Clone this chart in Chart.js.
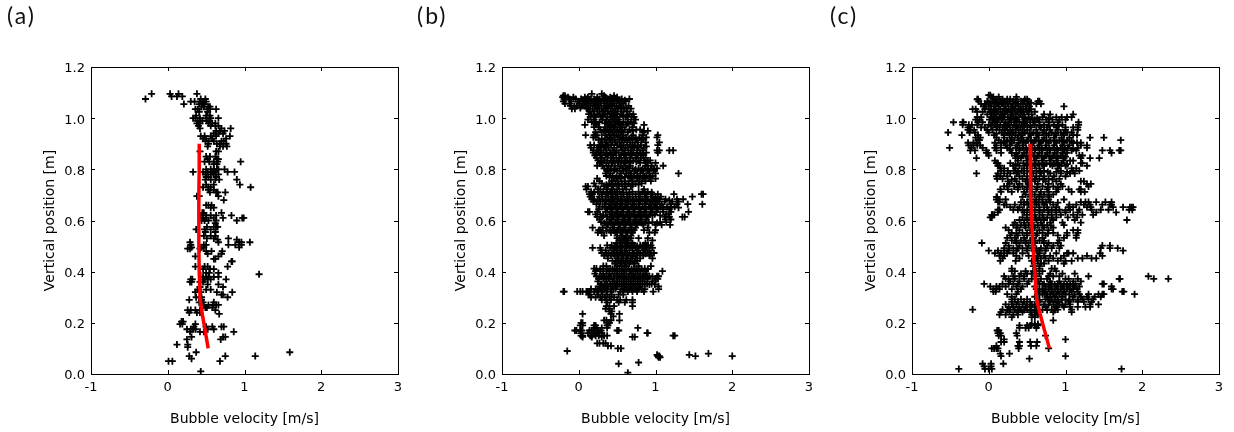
<!DOCTYPE html>
<html>
<head>
<meta charset="utf-8">
<title>Bubble velocity</title>
<script src="https://cdn.jsdelivr.net/npm/chart.js@4"></script>
<style>
  html, body { margin: 0; padding: 0; background: #fff; overflow: hidden; }
  #page { position: relative; width: 1234px; height: 432px; }
  canvas { position: absolute; top: 0; }
  .tag { position: absolute; top: 1px; font: 23px Lato, sans-serif; letter-spacing: 2px; color: #111; }
</style>
</head>
<body>
<div id="page">
  <canvas id="panelA" width="411" height="432" style="left:0"></canvas>
  <canvas id="panelB" width="411" height="432" style="left:411px"></canvas>
  <canvas id="panelC" width="411" height="432" style="left:821px"></canvas>
  <div class="tag" style="left:7px">(a)</div>
  <div class="tag" style="left:417px">(b)</div>
  <div class="tag" style="left:830px">(c)</div>
</div>
<script>
const xTickLabels = ['-1', '0', '1', '2', '3'];
const yTickLabels = ['0.0', '0.2', '0.4', '0.6', '0.8', '1.0', '1.2'];
const xTitle = 'Bubble velocity [m/s]';
const yTitle = 'Vertical position [m]';

// mean velocity curves, same heights for (a) and (c)
const meanHeights = [0.9, 0.8, 0.7, 0.6, 0.5, 0.4, 0.3, 0.25, 0.2, 0.1];
const meanVelocityA = [0.41, 0.41, 0.405, 0.405, 0.405, 0.41, 0.42, 0.44, 0.47, 0.527];
const meanVelocityC = [0.54, 0.54, 0.55, 0.56, 0.575, 0.6, 0.62, 0.655, 0.70, 0.79];

const bubblesA = [
  [1.095,-.21,.03,.14,.38],[1.085,.05,.12,.19],[1.075,-.29,.43,.49],[1.065,.3,.35,.42,.46,.5],
  [1.055,.21,.41,.45,.48],[1.045,.44,.47,.53,.55],[1.035,.36,.39,.52,.55,.63],[1.025,.41,.52],
  [1.01,.37,.5,.55],[1,.33,.36,.42,.5,.56,.66],[.99,.39,.45,.51,.54],[.98,.38,.42,.53,.58,.62],
  [.97,.4,.56,.62,.66],[.96,.42,.82,.7],[.95,.68,.74,.63],[.94,.6,.66,.72],[.93,.43,.48,.56,.63,.81],
  [.92,.46,.5,.58,.76],[.91,.49,.53,.6,.7,.73],[.9,.53,.64,.68,.76],[.89,.52,.68,.72,.77],
  [.87,.42,.63,.66],[.85,.5,.55,.62],[.84,.52,.66,.64],[.83,.48,.54,.6,.65,.95],[.82,.6,.64],
  [.8,.5,.56,.6,.64,.66,.74],[.79,.33,.46,.52,.58,.62,.87,.78],[.78,.49,.56,.6,.66],[.77,.5,.53,.63],
  [.76,.49,.56,.62,.67,.9],[.74,.5,.6,.94],[.73,.46,.53,.56,1.08],[.72,.53,.6],[.71,.55,.63,.65,.75],
  [.695,.38,.41,.66],[.68,.73],[.66,.5,.53,.57],[.65,.56,.6],[.63,.45,.47,.7],[.62,.43,.5,.56,.63,.83],
  [.61,.46,.5,.6,.72,.97,.99],[.6,.44,.48,.53,.63,.9],[.59,.62],[.575,.51,.6,.63,.65],[.565,.37,.48,.56],
  [.555,.49,.62],[.54,.47,.56,.62],[.53,.51,.6,.79],[.525,.65,.9],[.515,.29,.66,.93,.96,1.07],
  [.505,.3,.47,.5,.79,.88,.96],[.495,.31,.44,.47,.93],[.49,.26,.29,.42],[.48,.5,.57,.71],[.47,.52,.7],
  [.46,.36,.66],[.45,.62,.6],[.44,.83,.84],[.42,.36,.48,.52,.78],[.41,.46,.55,.6],[.395,.66,.5,.54],
  [.39,1.19],[.38,.46,.5,.53,.6,.66],[.37,.3,.32,.48,.52,.56,.76],[.36,.29,.31,.42,.46],[.35,.52,.66],
  [.34,.42,.72],[.33,.39,.4,.5,.56],[.32,.36,.43,.64,.84],[.31,.7,.72],[.3,.37,.44,.78],[.29,.28,.44],
  [.28,.41,.46,.6],[.27,.47,.53,.59,.63,.66],[.26,.49,.51,.58],[.25,.26,.3,.36,.42,.62],[.24,.28,.38,.42],
  [.235,.67],[.205,.2,.18],[.195,.16,.19,.36],[.185,.34,.5,.58,.7,.73],[.175,.25,.3,.33,.36,.52,.6],
  [.165,.29,.42,.47,.86],[.145,.75,.72,.31],[.135,.25,.69],[.115,.12,.26],[.105,.26],[.085,.37,1.59],
  [.07,.28,.75,1.14],[.06,.31],[.05,.01,.06,.68],[.01,.43]
];

const bubblesB = [
  [1.095,.17,.3],[1.088,-.2,-.18,.33,.46],[1.082,-.21,-.14,-.07,.08,.12,.24,.35,.41,.5],
  [1.075,-.19,-.17,-.12,-.04,.03,.1,.15,.2,.27,.31,.38,.44,.48,.56,.66],
  [1.066,-.2,-.1,-.01,.05,.13,.17,.23,.29,.34,.37,.43,.52,.61],[1.057,-.18,-.12,.01,.09,.11,.19,.25,.28,.36,.41,.46,.55,.58],
  [1.048,-.11,-.06,-.03,.04,.07,.15,.21,.26,.33,.39,.44,.49,.53,.65],[1.037,-.09,-.05,.12,.18,.23,.3,.35,.42,.47,.51,.59,.68],
  [1.026,.14,.2,.27,.32,.38,.45,.48,.56,.63],[1.016,.13,.16,.25,.34,.4,.43,.5,.55,.66,.71],
  [1.005,.15,.22,.29,.37,.42,.47,.53,.61,.69,.72],[.994,.12,.2,.31,.36,.44,.49,.52,.64,.74],
  [.985,.17,.27,.39,.41,.46,.51,.58,.68],[.974,.08,.23,.38,.43,.48,.55,.62,.85],[.965,.2,.26,.35,.4,.45,.53,.57,.7],
  [.955,.28,.37,.42,.47,.5,.6,.66,.75,.8],[.945,.22,.3,.39,.44,.52,.56,.64,.84],
  [.934,.09,.2,.24,.35,.41,.46,.49,.58,.71,.83,1.03],[.925,.19,.22,.37,.43,.51,.54,.62,.69,.79,.88,1.02],
  [.915,.26,.34,.4,.47,.56,.6,.66,.75,.82],[.905,.29,.36,.44,.48,.53,.63,.7,.77,.87,1.05],
  [.895,.15,.2,.31,.38,.42,.5,.58,.67,.73,.81,1.03],[.885,.16,.25,.33,.39,.46,.55,.61,.64,.72,.78,.85],
  [.874,.19,.24,.29,.36,.44,.49,.57,.6,.68,.76,.83,1.05,1.18,1.23,1.02],[.865,.19,.26,.32,.41,.47,.52,.65,.71,.8,.88,1.03],
  [.855,.21,.28,.35,.38,.45,.55,.62,.69,.77,.84],[.845,.23,.3,.42,.49,.53,.6,.67,.74,.81,.87],
  [.835,.25,.33,.37,.46,.56,.63,.71,.78,.85,.93],[.825,.27,.36,.44,.51,.59,.66,.8,.88,1],
  [.814,.24,.31,.39,.47,.55,.61,.67,.87,.95,1.1],[.804,.33,.42,.53,.57,.64,.7,.78,.86,.94,1.02],
  [.794,.38,.46,.5,.58,.66,.73,.81,.9,.98],[.784,.35,.41,.55,.62,.68,.76,.84,.92,1,1.3],
  [.774,.36,.44,.53,.65,.72,.8,.88,.96],[.764,.24,.46,.55,.67,.76,.83,.91,1],[.754,.27,.43,.51,.6,.7,.79,.87,.94],
  [.745,.2,.3,.4,.48,.56,.65,.74,.82],[.733,.09,.12,.22,.33,.38,.45,.52,.6,.68],[.722,.1,.25,.28,.36,.43,.5,.57,.62,.85],
  [.712,.16,.25,.32,.41,.47,.53,.7,.78,.83,.9],[.703,.14,.18,.3,.38,.44,.5,.58,.66,.74,.8,.88,.96,1.03,1.24,1.6,1.62],
  [.693,.15,.17,.27,.35,.42,.48,.55,.63,.7,.78,.86,.94,1,1.07,1.48],
  [.683,.17,.2,.31,.39,.46,.52,.6,.67,.75,.83,.9,.98,1.05,1.13,1.28,1.36],[.674,.19,.28,.36,.44,.5,.57,.65,.72,.8,.88,.96,1.03,1.12,1.22,1.3],
  [.664,.23,.34,.41,.48,.55,.62,.7,.78,.86,.93,1,1.08,1.2,1.28,1.42,1.61],[.654,.27,.31,.39,.46,.53,.6,.68,.75,.83,.91,.98,1.06,1.15,1.25],
  [.644,.26,.37,.44,.51,.58,.66,.73,.81,.88,.96,1.03,1.1,1.18],[.634,.12,.14,.24,.35,.42,.49,.56,.64,.71,.79,.86,.94,1.01,1.1,1.2,1.43],
  [.624,.22,.28,.4,.47,.54,.62,.69,.77,.84,.92,.99,1.14,1.17],[.614,.24,.3,.37,.45,.52,.6,.67,.75,.82,.9,1.12,1.18,1.35,1.38],
  [.604,.27,.4,.43,.5,.58,.65,.73,.8,.88,1.13,1.2],[.594,.29,.36,.48,.56,.63,.71,.78,.86,.96,1.06,1.14],
  [.583,.38,.46,.54,.61,.69,.76,.84,1,1.08,1.19],[.572,.18,.31,.36,.44,.52,.59,.67,.74,.9],
  [.562,.26,.28,.41,.5,.57,.65,.72,.85,1],[.553,.25,.3,.42,.48,.55,.63,.7,.92,.99],[.541,.33,.5,.57,.62,.68],
  [.531,.5,.56,.61,.68,.78,.9],[.522,.53,.58,.64,.96],[.512,.49,.55,.62,.7,.87],
  [.503,.37,.43,.5,.57,.64,.72,.8,.85,.9,.94],[.493,.18,.28,.41,.47,.53,.6,.66,.74,.83,.88,.96],
  [.483,.29,.35,.45,.5,.56,.62,.7,.78,.86,.92],[.473,.3,.39,.43,.49,.54,.6,.66,.76,.84,.9,.98],
  [.463,.33,.42,.47,.52,.58,.64,.7,.76,.84,.92],[.452,.38,.5,.56,.62,.68,.74,.8,.96],[.442,.44,.52,.58,.64,.7,.76],
  [.432,.47,.54,.6,.66,.72],[.422,.32,.36,.5,.56,.62,.78,.94],[.412,.2,.23,.32,.41,.47,.53,.59,.65,.72,.78,.86],
  [.402,.22,.28,.36,.44,.5,.56,.62,.68,.74,.8,.87,1.09],[.392,.21,.32,.4,.47,.53,.59,.66,.71,.77,.84,.88],
  [.382,.23,.3,.36,.42,.5,.56,.62,.69,.74,.8,.86,.92,1.04,1.02],[.372,.26,.32,.39,.46,.53,.59,.65,.71,.77,.83,.9,1,1.03],
  [.362,.25,.36,.44,.5,.56,.62,.68,.74,.8,.86,.96,1],[.352,.3,.34,.41,.47,.53,.59,.65,.71,.77,.83,.89,.95],
  [.342,.27,.32,.38,.44,.5,.56,.62,.68,.74,.8,1.04],[.332,.16,.22,.28,.34,.42,.48,.6,.66,.72,.78,.86,1.04],
  [.322,-.2,-.19,-.02,.02,.05,.1,.12,.14,.2,.24,.3,.36,.42,.54,.58,.64,.7,.76,.85,.97],
  [.31,.13,.15,.25,.31,.37,.43,.52,.58],[.3,.16,.22,.28,.34,.4,.46],[.29,.3,.36,.42,.5,.54,.62,.7],
  [.28,.37,.52,.6,.7],[.265,.36,.4,.46,.7],[.255,.35,.4],[.245,.4,.43],[.235,.05,.42,.53],[.225,.45],
  [.21,.33,.36,.42,.53],[.2,.03,.05,.4,.38],[.19,.05,.02,.2,.22,.38,.37],[.18,.3,.37,.77,.24,.2],
  [.17,-.05,-.03,.02,.04,.14,.17,.21,.25,.5,.52,.29],[.16,.03,.12,.2,.24,.27,.3,.89,.9],
  [.15,.03,.05,.15,.17,.22,.26,.33,1.23,1.25,.37],[.145,.7,.73,.05,.17,.3],[.12,.24,.27,.32,.35],[.11,.38,.42],
  [.1,.51,.55],[.09,-.15],[.08,1.69],[.075,1.02,1.44],[.07,1.03,1.05,1.52,2],[.065,1.04,1.06],[.045,.78],[.04,.52],[.005,.64],
  // dense parts of the cloud, second pass
  [1.07,.07,.22,.33,.5,.6],[1.04,.02,.1,.24,.37,.55,.62],[1.01,.2,.31,.46,.58,.63],[.98,.22,.34,.53,.64,.72],
  [.95,.33,.55,.7,.85,.9],[.92,.3,.41,.57,.66,.74,.84],[.89,.27,.35,.55,.7,.77,.88],[.86,.23,.36,.44,.59,.68,.76,.84],
  [.83,.29,.43,.52,.6,.67,.75,.9],[.8,.37,.47,.62,.74,.83,.9,.98],[.77,.4,.49,.6,.69,.77,.85,.93],
  [.74,.36,.44,.52,.61,.7,.78],[.71,.2,.37,.44,.58,.66,.86,.95],[.68,.25,.35,.43,.56,.64,.71,.79,.87,.94,1.02,1.18],
  [.65,.35,.43,.5,.57,.64,.72,.79,.87,.95,1.02,1.1,1.2,1.3],[.62,.32,.44,.51,.58,.66,.73,.81,.88,.96,1.06],
  [.59,.33,.42,.52,.6,.67,.75,.82,.91,1.02],[.56,.36,.46,.54,.61,.69],[.53,.53,.59,.65],[.5,.47,.54,.61,.68,.76,.83,.88],
  [.47,.36,.46,.51,.57,.63,.72,.8,.87,.94],[.44,.48,.55,.61,.67,.73],[.41,.28,.38,.44,.5,.56,.62,.69,.75,.82,.9],
  [.38,.27,.33,.39,.46,.53,.59,.65,.72,.77,.83,.89,.96],[.35,.28,.37,.44,.5,.56,.62,.68,.74,.8,.86,.92,.99],
  [.33,.25,.31,.37,.45,.57,.63,.69,.75,.82]
];

const bubblesC = [
  [1.09,0,.02],[1.083,.13,.36,.03,.06],[1.074,-.15,-.14,.1,.18,.24,.28,.36,.47,.5],
  [1.066,-.13,-.02,.05,.08,.15,.21,.27,.32,.42,.46,.52,.64,.66],[1.056,-.1,-.05,.01,.11,.17,.19,.25,.31,.38,.44,.5,.62,.68],
  [1.046,-.07,-.03,.03,.07,.13,.22,.29,.35,.41,.48,.53,.98],[1.035,-.21,-.17,-.05,0,.09,.15,.2,.26,.33,.39,.45,.49,.55],
  [1.025,-.15,-.08,.02,.06,.12,.18,.24,.28,.37,.43,.5,.6],[1.015,-.02,.04,.1,.16,.21,.3,.35,.41,.46,.56,.72,.8,1.1],
  [1.004,-.15,-.1,.03,.08,.14,.19,.25,.32,.39,.44,.52,.7,.88,.95,1.02,1.08],[.994,-.17,-.12,.01,.07,.12,.17,.27,.34,.37,.47,.54,.6,.65,.75,.83,.92,1],
  [.984,-.46,-.34,-.33,-.14,-.08,.05,.1,.22,.29,.36,.4,.45,.5,.58,.66,.78,.9,1.17],[.974,-.34,-.26,-.22,-.15,0,.08,.15,.2,.26,.33,.43,.48,.6,.72,.85,.96,1.17],
  [.964,-.27,-.25,-.1,-.05,.1,.18,.23,.31,.38,.41,.55,.68,.76,.88,1,1.1,1.16],[.954,-.27,-.24,-.19,-.02,.05,.14,.21,.28,.35,.44,.5,.62,.72,.8,.9,1,1.16],
  [.944,-.53,-.25,-.18,0,.17,.25,.32,.39,.47,.58,.7,.82,.94,1.02,1.08],[.934,-.35,-.14,.07,.2,.27,.35,.42,.55,.65,.78,.88,.98,1.1,1.15],
  [.924,-.17,-.11,.1,.2,.3,.38,.43,.52,.62,.72,.85,.95,1.05,1.5,1.32],[.914,-.14,-.12,.13,.24,.33,.41,.5,.6,.7,.8,.92,1.02,1.72],
  [.904,-.27,-.2,-.16,.08,.16,.2,.3,.39,.48,.58,.68,.78,.88,.98,1.1,1.15,1.2],[.894,-.26,-.2,-.15,-.11,.1,.22,.28,.37,.45,.56,.66,.75,.85,.96,1.05,1.2,1.28],
  [.884,-.51,-.23,-.08,.08,.16,.24,.35,.44,.55,.64,.74,.84,.94,1.03,1.16,1.28],[.874,-.24,-.18,-.03,.1,.28,.4,.5,.6,.7,.8,.9,.98,1.08,1.14,1.48,1.58,1.7,1.72],
  [.864,-.03,-.01,.16,.3,.36,.46,.56,.66,.76,.86,.96,1.02,1.6],[.854,0,.34,.44,.54,.64,.74,.84,.94,1.22,1.18],
  [.844,-.16,.35,.42,.52,.62,.72,.82,.9,.98,1.2,1.32,1.44],[.834,.08,.38,.5,.6,.7,.8,.88,.97,1.06,1.1],
  [.824,.1,.12,.28,.45,.55,.65,.75,.85,.95,1.2,1.22],[.814,.12,.14,.32,.4,.5,.6,.72,.83,.92,1,1.28],
  [.804,.15,.2,.35,.46,.56,.66,.9,1.08,1.14],[.794,.16,.25,.33,.43,.5,.62,.72,.94,1.1,1.18],
  [.784,-.16,.12,.2,.28,.36,.46,.58,.68,.8,.94,1.06,1.12],[.773,.1,.15,.24,.4,.5,.62,.72,.85,1],
  [.763,.11,.18,.34,.44,.56,.66,.78,.92],[.753,.25,.36,.48,.6,.74,.88,1.2,1.24],[.743,.27,.4,.52,.64,.78,.94,1.28,1.33],
  [.733,.2,.24,.33,.44,.56,.7,.84,.96,1.3],[.722,.15,.25,.38,.5,.62,.76,.9,1.04,1.2,1.18],
  [.712,.16,.3,.46,.56,.68,.78,.88,1.08,1.2,1.25],[.702,.48,.6,.72,.84],[.692,.1,.11,.44,.54,.66,.78],
  [.682,.1,.14,.22,.54,.62,.7,.78,.98],[.672,.12,.14,.42,.5,.6,.7,.8,1.2,1.26,1.3,1.4,1.52,1.6],
  [.662,.2,.23,.34,.46,.52,.62,.72,.84,1.05,1.14,1.24,1.32,1.48,1.58,1.6],[.652,.28,.4,.56,.66,.76,.88,1.04,1.1,1.28,1.33,1.62,1.75,1.86,1.84,1.88],
  [.642,.12,.14,.32,.38,.5,.6,.72,.82,.92,1.06,1.18,1.34,1.46,1.56,1.83,1.87],[.632,.46,.54,.66,.78,.88,1,1.16,1.4,1.66,.12],
  [.622,.04,.05,.07,.5,.6,.7,.82,.94,1.1,1.22,1.36],[.612,.02,.04,.44,.56,.66,.76,.88,1.03,1.15],
  [.602,.4,.5,.62,.72,.84,1.12,1.8],[.592,.34,.46,.56,.68,.8,.96,1.2],[.582,.32,.42,.52,.64,.76,.98],
  [.572,.22,.36,.48,.6,.72,.84],[.562,.26,.4,.54,.66,.78,1.16,1.1],[.552,.3,.44,.56,.7,.84,1.02,1.16],
  [.542,.28,.38,.5,.62,.74,.9,1.02,1.14],[.532,.24,.34,.46,.58,.7,1.14,.98],[.522,.3,.42,.54,.66,.92],
  [.512,-.09,.22,.36,.48,.6,.72,.78,.9],[.502,.26,.4,.52,.76,.84,.94,1.48,1.58],[.492,.2,.32,.44,.56,.68,.82,.92,1.46,1.58,1.68],
  [.482,0,.12,.2,.26,.36,.5,.62,.66,.74,1.75],[.472,.08,.16,.24,.32,.44,.66,1.04,1.1,1.02,.88,1.45],
  [.462,.14,.2,.36,.52,.64,.72,.8,.98,1.28,1.48],[.452,.18,.4,.62,.68,.74,.84,.94,1.16,1.22,1.34,1.4],
  [.442,.15,.35,.56,.64,.78,.9,1,1.08],[.432,.6,.68,.72,.98],[.422,.58,.66],[.412,.3,.66,.82,.86],
  [.402,.3,.34,.48,.58,.62,.7,.88],[.392,.42,.5,.56,.66,.8,.96,1.12],[.382,.2,.32,.4,.46,.62,.78,.84,.92,1.3,2.08],
  [.372,.22,.26,.34,.46,.56,.68,.76,1,1.16,1.04,2.15,2.34,1.71,1.7],[.362,.28,.4,.52,.64,.8,.92,1.1,1.2],
  [.352,-.06,.18,.26,.32,.38,.5,.66,.72,.82,.9,.98,1.06,1.13,1.5,1.48],[.342,.02,.1,.14,.22,.36,.44,.6,.74,.8,.88,.96,1.04,1.12,1.18,1.6],
  [.332,.06,.1,.14,.3,.42,.62,.7,.78,.86,.94,1.02,1.1,1.15,1.6,1.62],[.322,.06,.09,.38,.64,.72,.82,.9,.98,1.08,1.16,1.76,1.74],
  [.312,.24,.36,.7,.76,.84,.92,1,1.18,1.3,1.43,1.48,1.5,1.9],[.302,.3,.6,.76,.86,.96,1.1,1.2,1.28,1.38,1.46],
  [.292,.3,.34,.42,.5,.74,.82,.9,1,1.1,1.22,1.3,1.36],[.282,.3,.38,.46,.54,.66,.8,.9,1.04,1.16,1.24,1.34],
  [.272,.22,.3,.36,.44,.5,.6,.72,.84,.92,1,1.06,1.32,1.43],[.262,.26,.32,.4,.48,.54,.62,.74,.88,.98,1.06,1.16,1.26,1.32],
  [.252,-.21,.18,.28,.34,.42,.5,.6,.7,.82,.9,1.08],[.242,.16,.27,.37,.44,.54,.62,1.08,.84],[.232,.14,.22,.32,.38,.56,.6,.64],
  [.222,.3,.56,.6],[.21,.84],[.195,.56,.6,.64],[.19,.4,.5,.54,.6,.64],[.18,.4,.48,.52,.62],[.17,.11,.13],[.16,.15,.36,.12],
  [.15,.13,.16,.37,.74],[.135,1,.2],[.125,.16,.2,.4,.63,.54],[.11,.1,.38,.4,.55,.62],[.1,.04,.07,.1,.39,.78,.12],
  [.08,.15,.27],[.07,1,.16],[.06,.53],[.04,-.08,.19,.03],[.03,-.06,.03],[.02,-.39,-.05,0,.04,1.73],
  // dense parts of the cloud, second pass
  [1.06,.0,.1,.19,.35,.55],[1.03,.08,.22,.31,.42,.52],[1.0,.06,.17,.28,.35,.47,.57,.63,.78],[.97,.03,.11,.24,.36,.46,.54,.66,.79,.91],
  [.94,.1,.2,.3,.44,.53,.63,.75,.87,.98],[.91,.2,.28,.45,.55,.65,.75,.86,.97,1.08],[.88,.28,.4,.49,.6,.69,.79,.89,.99,1.1],
  [.85,.38,.49,.59,.69,.79,.89,1],[.82,.35,.5,.6,.7,.8,.9,1.02],[.79,.38,.55,.67,.77,.88,1.02],[.76,.3,.5,.6,.71,.83],
  [.73,.38,.5,.63,.77,.9],[.7,.54,.66,.78],[.67,.46,.55,.65,.75,.9],[.64,.44,.55,.66,.77,.87,1],[.61,.5,.61,.71,.82],
  [.58,.37,.47,.58,.7,.81],[.55,.36,.5,.63,.77],[.52,.36,.48,.6,.72],[.49,.26,.38,.5,.62,.74],[.35,.7,.78,.86,.94,1.02,1.1],
  [.33,.66,.74,.82,.9,.98,1.06],[.31,.66,.73,.8,.88,.96,1.05,1.12],[.29,.66,.78,.86,.95,1.05,1.16],[.27,.56,.66,.78,.88,.96],
  [.25,.24,.38,.46,.55,.65,.76,.86]
];

const toPoints = rows => rows.flatMap(([y, ...vs]) => vs.map(x => ({ x, y })));
const toCurve = (xs, ys) => xs.map((x, i) => ({ x, y: ys[i] }));

// frame and inward ticks on all four sides, like the old matplotlib look
const frameTicks = {
  id: 'frameTicks',
  afterDatasetsDraw(chart) {
    const { ctx, chartArea: a, scales } = chart;
    const len = 4;
    ctx.save();
    ctx.strokeStyle = '#000';
    ctx.lineWidth = 1;
    ctx.strokeRect(a.left + 0.5, a.top + 0.5, a.width, a.height);
    ctx.beginPath();
    scales.x.ticks.forEach((t, i) => {
      const px = Math.round(scales.x.getPixelForTick(i)) + 0.5;
      ctx.moveTo(px, a.top); ctx.lineTo(px, a.top + len);
      ctx.moveTo(px, a.bottom); ctx.lineTo(px, a.bottom - len);
    });
    scales.y.ticks.forEach((t, i) => {
      const py = Math.round(scales.y.getPixelForTick(i)) + 0.5;
      ctx.moveTo(a.left, py); ctx.lineTo(a.left + len, py);
      ctx.moveTo(a.right, py); ctx.lineTo(a.right - len, py);
    });
    ctx.stroke();
    ctx.restore();
  }
};

function makePanel(id, rows, meanVelocity) {
  const datasets = [{
    data: toPoints(rows),
    pointStyle: 'cross',
    pointRadius: 3.5,
    pointBorderWidth: 1.8,
    pointBorderColor: '#000',
    showLine: false,
    order: 2
  }];
  if (meanVelocity) {
    datasets.push({
      data: toCurve(meanVelocity, meanHeights),
      showLine: true,
      borderColor: '#f00',
      borderWidth: 3.5,
      pointRadius: 0,
      tension: 0,
      order: 1
    });
  }
  new Chart(document.getElementById(id), {
    type: 'scatter',
    data: { datasets },
    plugins: [frameTicks],
    options: {
      responsive: false,
      animation: false,
      layout: { padding: { top: 67, right: 13, left: 0, bottom: 0 } },
      plugins: { legend: { display: false }, tooltip: { enabled: false } },
      scales: {
        x: {
          min: -1, max: 3,
          afterFit: s => { s.height = 58; },
          grid: { display: false, drawTicks: false },
          border: { display: false },
          ticks: {
            stepSize: 1, padding: 6, maxRotation: 0, autoSkip: false, color: '#000',
            font: { family: 'DejaVu Sans', size: 13 },
            callback: (v, i) => xTickLabels[i]
          },
          title: {
            display: true, text: xTitle, color: '#000',
            font: { family: 'DejaVu Sans', size: 14 },
            padding: { top: 0, bottom: 4 }
          }
        },
        y: {
          min: 0, max: 1.2,
          afterFit: s => { s.width = 91; },
          grid: { display: false, drawTicks: false },
          border: { display: false },
          ticks: {
            stepSize: 0.2, padding: 6, autoSkip: false, color: '#000',
            // empty first line nudges the label down 2px, onto the tick
            font: { family: 'DejaVu Sans', size: 13, lineHeight: '4px' },
            callback: (v, i) => ['', yTickLabels[i]]
          },
          title: {
            display: true, text: yTitle, color: '#000',
            font: { family: 'DejaVu Sans', size: 14 },
            padding: { top: 42, bottom: 0 }
          }
        }
      }
    }
  });
}

makePanel('panelA', bubblesA, meanVelocityA);
makePanel('panelB', bubblesB, null);
makePanel('panelC', bubblesC, meanVelocityC);
</script>
</body>
</html>
